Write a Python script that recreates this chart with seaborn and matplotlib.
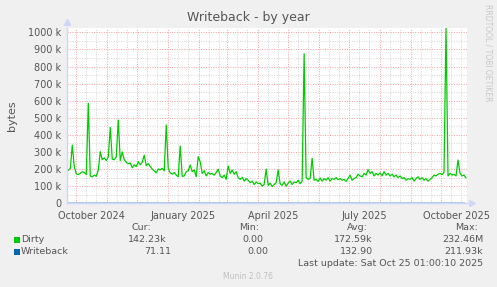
import numpy as np
import pandas as pd
import matplotlib
matplotlib.use("Agg")
import matplotlib.pyplot as plt
import matplotlib.dates as mdates
import matplotlib.ticker as mticker
from matplotlib.transforms import blended_transform_factory
import seaborn as sns

# ---------------- data ----------------
dirty_start = "2024-09-21"       # first sample, one sample every 2 days
dirty_k = [
    200, 192, 205, 340, 214, 172, 168, 175, 185, 180,
    168, 585, 160, 155, 165, 158, 195, 302, 255, 265,
    250, 270, 444, 258, 255, 270, 487, 250, 300, 255,
    240, 232, 236, 208, 225, 215, 243, 225, 240, 282,
    220, 232, 215, 200, 190, 178, 200, 195, 205, 190,
    458, 206, 178, 170, 180, 165, 155, 335, 158, 160,
    185, 190, 224, 185, 195, 156, 273, 243, 175, 190,
    160, 180, 170, 175, 165, 180, 200, 160, 150, 165,
    140, 218, 175, 195, 170, 185, 150, 140, 152, 130,
    145, 135, 120, 130, 110, 125, 115, 118, 100, 110,
    200, 105, 118, 98, 110, 120, 195, 115, 105, 125,
    100, 118, 130, 110, 125, 120, 135, 115, 130, 875,
    150, 140, 145, 263, 135, 140, 128, 148, 130, 145,
    135, 150, 130, 145, 140, 150, 138, 145, 135, 140,
    128, 145, 165, 135, 145, 150, 170, 160, 155, 175,
    165, 198, 175, 185, 160, 175, 165, 178, 160, 185,
    165, 175, 160, 170, 155, 165, 150, 160, 145, 150,
    135, 145, 140, 150, 130, 145, 155, 140, 150, 135,
    145, 130, 140, 150, 165, 160, 170, 175, 168, 180,
    1030, 160, 175, 165, 170, 160, 253, 175, 160, 165,
    148,
]
writeback_dates = ["2024-09-21", "2025-10-25"]
writeback_bytes = [130, 71]

month_labels = ["October 2024", "January 2025", "April 2025", "July 2025", "October 2025"]
month_label_dates = ["2024-10-16", "2025-01-16", "2025-04-16", "2025-07-16", "2025-10-16"]

series_names = ["Dirty", "Writeback"]
series_colors = ["#00CC00", "#0066B3"]
cur_vals = ["142.23k", "71.11"]
min_vals = ["0.00", "0.00"]
avg_vals = ["172.59k", "132.90"]
max_vals = ["232.46M", "211.93k"]

# ---------------- frame ----------------
dirty_dates = pd.date_range(dirty_start, periods=len(dirty_k), freq="2D")
df = pd.concat([
    pd.DataFrame({"date": dirty_dates, "bytes": np.array(dirty_k) * 1000.0, "series": "Dirty"}),
    pd.DataFrame({"date": pd.to_datetime(writeback_dates), "bytes": writeback_bytes, "series": "Writeback"}),
], ignore_index=True)

W, H = 497, 287
BG = "#F0F0F0"
FONT_C = "#555555"
AXIS_C = "#CFD6F8"
MGRID = "#F2A0A0"
GRID = "#D4D4D4"

sns.set_style("white")
plt.rcParams["font.family"] = ["DejaVu Sans"]

fig = plt.figure(figsize=(W / 100, H / 100), dpi=100, facecolor=BG)
L, R, T, B = 66.7, 467.0, 27.7, 203.3
ax = fig.add_axes([L / W, 1 - B / H, (R - L) / W, (B - T) / H])
ax.set_facecolor("white")

sns.lineplot(data=df, x="date", y="bytes", hue="series", palette=series_colors,
             hue_order=series_names, legend=False, linewidth=0.9, ax=ax)

t0 = pd.Timestamp("2024-10-01")
ax.set_xlim(t0 - pd.Timedelta(days=9.6), t0 + pd.Timedelta(days=391))
ax.set_ylim(0, 1027000)

# grids
ax.xaxis.set_major_locator(mdates.MonthLocator())
ax.xaxis.set_minor_locator(mdates.DayLocator(bymonthday=[11, 21]))
ax.yaxis.set_major_locator(mticker.MultipleLocator(100000))
ax.yaxis.set_minor_locator(mticker.MultipleLocator(50000))
ax.yaxis.set_major_formatter(mticker.FuncFormatter(lambda v, p: "0" if v == 0 else f"{int(round(v / 1000))} k"))
ax.xaxis.set_major_formatter(mticker.NullFormatter())
ax.grid(which="major", color=MGRID, linestyle=(0, (1, 1.5)), linewidth=0.7)
ax.grid(which="minor", color=GRID, linestyle=(0, (1, 1.5)), linewidth=0.7)
ax.set_axisbelow(True)
ax.tick_params(axis="both", which="major", length=2, width=0.7, color=MGRID,
               labelsize=7, labelcolor=FONT_C, pad=2)
ax.tick_params(axis="both", which="minor", length=2, width=0.7, color=GRID)
ax.set_xlabel("")
ax.set_ylabel("bytes", fontsize=8, color=FONT_C, labelpad=8)

for s in ["top", "right"]:
    ax.spines[s].set_visible(False)
for s in ["left", "bottom"]:
    ax.spines[s].set_color(AXIS_C)
    ax.spines[s].set_linewidth(1.0)
    ax.spines[s].set_zorder(5)

# arrows
ax.plot([0], [1.035], marker="^", color=AXIS_C, markersize=4, transform=ax.transAxes, clip_on=False)
ax.plot([1.012], [0], marker=">", color=AXIS_C, markersize=4, transform=ax.transAxes, clip_on=False)

# month labels
trans = blended_transform_factory(ax.transData, ax.transAxes)
for lab, d in zip(month_labels, month_label_dates):
    ax.text(mdates.date2num(pd.Timestamp(d)), -0.045, lab, transform=trans, ha="center", va="top",
            fontsize=7, color=FONT_C)

def px(x, y):
    return x / W, 1 - y / H

fig.text(*px(248, 18), "Writeback - by year", ha="center", va="center", fontsize=9, color=FONT_C)
fig.text(*px(488, 53), "RRDTOOL / TOBI OETIKER", ha="center", va="center", rotation=270,
         fontsize=5.5, color="#C8C8C8")

# legend table
LEG_FS = 6.8
hdr_y = 227.7
for lab, x in zip(["Cur:", "Min:", "Avg:", "Max:"], [131.7, 239, 347, 455]):
    fig.text(*px(x, hdr_y), lab, ha="left", va="center", fontsize=LEG_FS, color=FONT_C)
rows_y = [239.5, 251.7]
cur_x = [128, 144]
min_x = [242, 247]
avg_x = [334, 340]
max_x = [442, 444]
for i, name in enumerate(series_names):
    y = rows_y[i]
    fig.patches.append(plt.Rectangle(px(14, y + 3), 6 / W, 6 / H, transform=fig.transFigure,
                                     facecolor=series_colors[i], edgecolor="none"))
    fig.text(*px(20.7, y), name, ha="left", va="center", fontsize=LEG_FS, color=FONT_C)
    fig.text(*px(cur_x[i], y), cur_vals[i], ha="left", va="center", fontsize=LEG_FS, color=FONT_C)
    fig.text(*px(min_x[i], y), min_vals[i], ha="left", va="center", fontsize=LEG_FS, color=FONT_C)
    fig.text(*px(avg_x[i], y), avg_vals[i], ha="left", va="center", fontsize=LEG_FS, color=FONT_C)
    fig.text(*px(max_x[i], y), max_vals[i], ha="left", va="center", fontsize=LEG_FS, color=FONT_C)

fig.text(*px(483, 263.3), "Last update: Sat Oct 25 01:00:10 2025", ha="right", va="center",
         fontsize=LEG_FS, color=FONT_C)
fig.text(*px(248, 276.5), "Munin 2.0.76", ha="center", va="center", fontsize=5.5, color="#C0C0C0")

fig.savefig("out.png", dpi=100, facecolor=BG)
